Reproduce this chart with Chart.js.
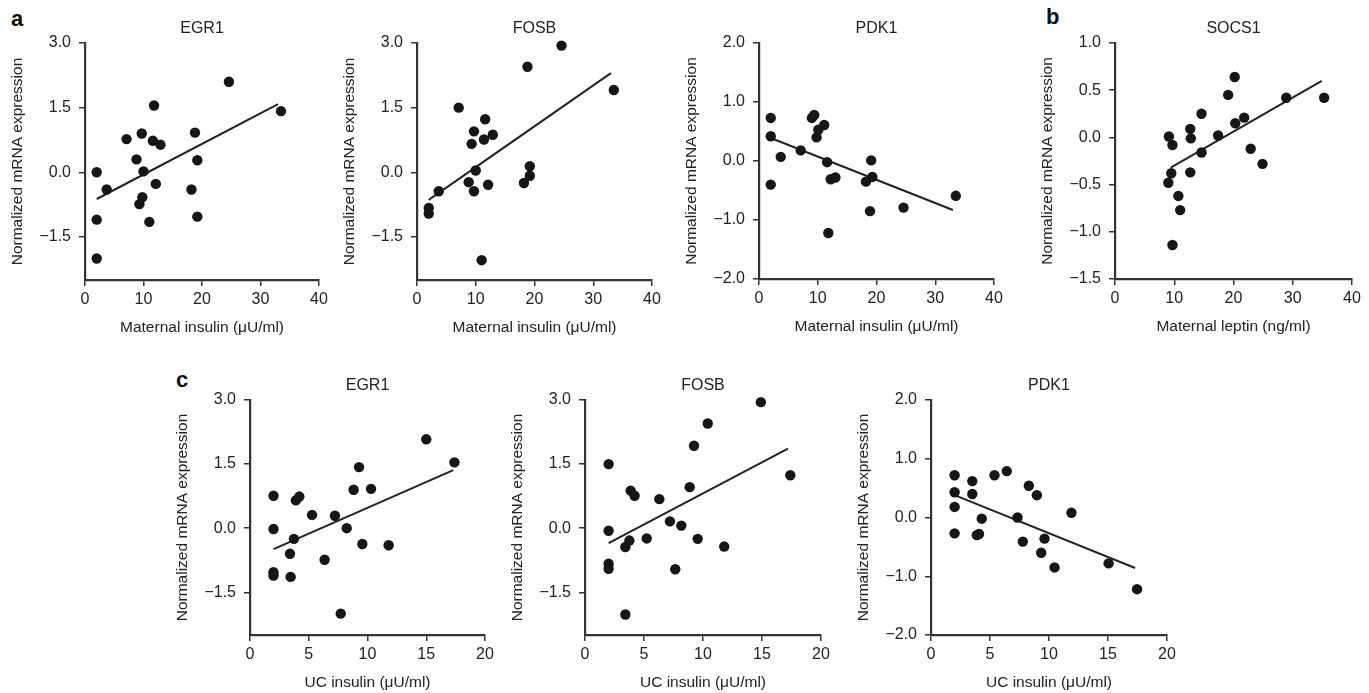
<!DOCTYPE html>
<html>
<head>
<meta charset="utf-8">
<script src="https://cdn.jsdelivr.net/npm/chart.js@4.4.1/dist/chart.umd.min.js"></script>
<style>
  body { margin: 0; width: 1369px; height: 693px; overflow: hidden; background: #fff; position: relative; }
  canvas { position: absolute; }
  .lbl { position: absolute; font-family: "Liberation Sans", Arial, sans-serif; font-weight: bold; font-size: 22px; line-height: 22px; color: #111; }
</style>
</head>
<body>
<div class="lbl" style="left:11px;top:8px">a</div>
<div class="lbl" style="left:1046px;top:6px">b</div>
<div class="lbl" style="left:176px;top:369px">c</div>
<script>
// maternal insulin vs EGR1
const egr1MatX = [2, 2, 2, 3.7, 7.1, 8.8, 9.7, 9.3, 9.8, 10, 11, 11.6, 11.8, 12.9, 12.1, 18.2, 18.8, 19.2, 19.2, 24.6, 33.5];
const egr1MatY = [0.0, -1.1, -2.0, -0.4, 0.77, 0.3, 0.9, -0.74, -0.58, 0.02, -1.15, 0.73, 1.55, 0.64, -0.27, -0.4, 0.92, 0.28, -1.03, 2.1, 1.42];
const egr1MatFitX = [2, 33];
const egr1MatFitY = [-0.62, 1.58];

// maternal insulin vs FOSB
const fosbMatX = [2, 2, 3.7, 7.1, 8.8, 9.3, 9.7, 9.7, 10, 11, 11.4, 11.6, 12.1, 12.9, 18.2, 18.8, 19.2, 19.2, 24.6, 33.5];
const fosbMatY = [-0.83, -0.96, -0.44, 1.5, -0.23, 0.66, 0.95, -0.44, 0.04, -2.04, 0.76, 1.23, -0.29, 0.87, -0.25, 2.45, 0.14, -0.08, 2.94, 1.91];
const fosbMatFitX = [2, 33];
const fosbMatFitY = [-0.64, 2.3];

// maternal insulin vs PDK1
const pdk1MatX = [2, 2, 2, 3.7, 7.1, 9.0, 9.4, 9.8, 10.1, 11.1, 11.6, 12.2, 13.0, 11.8, 18.2, 19.1, 19.3, 18.9, 24.6, 33.5];
const pdk1MatY = [0.73, 0.42, -0.4, 0.07, 0.18, 0.73, 0.78, 0.4, 0.53, 0.61, -0.02, -0.31, -0.28, -1.22, -0.35, 0.01, -0.27, -0.85, -0.79, -0.59];
const pdk1MatFitX = [2, 33];
const pdk1MatFitY = [0.39, -0.83];

// maternal leptin vs SOCS1
const socs1X = [9.1, 9.7, 9.0, 9.5, 9.7, 10.7, 11.0, 12.7, 12.8, 12.7, 14.6, 14.6, 17.4, 19.1, 20.2, 20.3, 21.8, 22.9, 24.9, 28.9, 35.3];
const socs1Y = [0.01, -0.08, -0.48, -0.38, -1.14, -0.62, -0.77, 0.09, -0.01, -0.37, 0.25, -0.16, 0.02, 0.45, 0.64, 0.15, 0.21, -0.12, -0.28, 0.42, 0.42];
const socs1FitX = [9.4, 34.9];
const socs1FitY = [-0.32, 0.6];

// UC insulin vs EGR1
const egr1UcX = [2, 2, 2, 2, 3.4, 3.46, 3.74, 3.9, 4.2, 5.28, 6.35, 7.23, 7.72, 8.23, 8.82, 9.28, 9.56, 10.3, 11.8, 15.0, 17.4];
const egr1UcY = [0.76, -0.02, -1.03, -1.11, -0.6, -1.14, -0.25, 0.65, 0.74, 0.31, -0.74, 0.29, -2.0, 0.0, 0.9, 1.43, -0.37, 0.92, -0.4, 2.08, 1.54];
const egr1UcFitX = [2, 17.3];
const egr1UcFitY = [-0.49, 1.36];

// UC insulin vs FOSB
const fosbUcX = [2, 2, 2, 2, 3.42, 3.42, 3.76, 3.87, 4.2, 5.23, 6.3, 7.2, 7.65, 8.16, 8.87, 9.24, 9.55, 10.4, 11.8, 14.9, 17.4];
const fosbUcY = [1.5, -0.06, -0.83, -0.95, -0.44, -2.02, -0.29, 0.88, 0.76, -0.24, 0.68, 0.16, -0.96, 0.06, 0.96, 1.93, -0.25, 2.45, -0.43, 2.95, 1.24];
const fosbUcFitX = [2, 17.2];
const fosbUcFitY = [-0.35, 1.86];

// UC insulin vs PDK1
const pdk1UcX = [2, 2, 2, 2, 3.5, 3.5, 3.88, 4.07, 4.3, 5.38, 6.42, 7.33, 7.78, 8.29, 8.97, 9.34, 9.62, 10.47, 11.9, 15.05, 17.46];
const pdk1UcY = [0.72, 0.43, 0.18, -0.27, 0.62, 0.4, -0.3, -0.28, -0.02, 0.72, 0.79, 0.0, -0.41, 0.54, 0.38, -0.6, -0.36, -0.85, 0.08, -0.78, -1.22];
const pdk1UcFitX = [2, 17.3];
const pdk1UcFitY = [0.38, -0.86];

// tick labels
const maternalXTicks = [0, 10, 20, 30, 40];
const ucXTicks = [0, 5, 10, 15, 20];
const wideYTicks = [-1.5, 0, 1.5, 3.0];
const pdk1YTicks = [-2, -1, 0, 1, 2];
const socs1YTicks = [-1.5, -1.0, -0.5, 0, 0.5, 1.0];

const yTitle = 'Normalized mRNA expression';
const matInsulinTitle = 'Maternal insulin (\u03bcU/ml)';
const ucInsulinTitle = 'UC insulin (\u03bcU/ml)';

Chart.defaults.font.family = '"Liberation Sans", Arial, Helvetica, sans-serif';
Chart.defaults.color = '#222';

// room around each plot area inside its canvas
const PAD_L = 80, PAD_R = 20, PAD_T = 40, PAD_B = 62;

const panels = [
  { left: 85,   top: 43,  w: 234, h: 237, title: 'EGR1',  xTitle: matInsulinTitle, xMax: 40, xTicks: maternalXTicks, yMin: -2.5, yMax: 3, yTicks: wideYTicks, xs: egr1MatX, ys: egr1MatY, fx: egr1MatFitX, fy: egr1MatFitY },
  { left: 417,  top: 43,  w: 235, h: 237, title: 'FOSB',  xTitle: matInsulinTitle, xMax: 40, xTicks: maternalXTicks, yMin: -2.5, yMax: 3, yTicks: wideYTicks, xs: fosbMatX, ys: fosbMatY, fx: fosbMatFitX, fy: fosbMatFitY },
  { left: 759,  top: 43,  w: 235, h: 236, title: 'PDK1',  xTitle: matInsulinTitle, xMax: 40, xTicks: maternalXTicks, yMin: -2, yMax: 2, yTicks: pdk1YTicks, xs: pdk1MatX, ys: pdk1MatY, fx: pdk1MatFitX, fy: pdk1MatFitY },
  { left: 1115, top: 43,  w: 237, h: 236, title: 'SOCS1', xTitle: 'Maternal leptin (ng/ml)', xMax: 40, xTicks: maternalXTicks, yMin: -1.5, yMax: 1, yTicks: socs1YTicks, xs: socs1X, ys: socs1Y, fx: socs1FitX, fy: socs1FitY },
  { left: 250,  top: 400, w: 235, h: 235, title: 'EGR1',  xTitle: ucInsulinTitle, xMax: 20, xTicks: ucXTicks, yMin: -2.5, yMax: 3, yTicks: wideYTicks, xs: egr1UcX, ys: egr1UcY, fx: egr1UcFitX, fy: egr1UcFitY },
  { left: 585,  top: 400, w: 236, h: 235, title: 'FOSB',  xTitle: ucInsulinTitle, xMax: 20, xTicks: ucXTicks, yMin: -2.5, yMax: 3, yTicks: wideYTicks, xs: fosbUcX, ys: fosbUcY, fx: fosbUcFitX, fy: fosbUcFitY },
  { left: 931,  top: 400, w: 236, h: 235, title: 'PDK1',  xTitle: ucInsulinTitle, xMax: 20, xTicks: ucXTicks, yMin: -2, yMax: 2, yTicks: pdk1YTicks, xs: pdk1UcX, ys: pdk1UcY, fx: pdk1UcFitX, fy: pdk1UcFitY }
];

const axisColor = '#333';

function fmtY(v) {
  return v < 0 ? '\u2212' + Math.abs(v).toFixed(1) : v.toFixed(1);
}

panels.forEach(p => {
  const cv = document.createElement('canvas');
  const cw = p.w + PAD_L + PAD_R;
  const ch = p.h + PAD_T + PAD_B;
  cv.width = cw;
  cv.height = ch;
  cv.style.left = (p.left - PAD_L) + 'px';
  cv.style.top = (p.top - PAD_T) + 'px';
  cv.style.width = cw + 'px';
  cv.style.height = ch + 'px';
  document.body.appendChild(cv);

  new Chart(cv, {
    type: 'scatter',
    data: {
      datasets: [
        {
          data: p.xs.map((x, i) => ({ x: x, y: p.ys[i] })),
          backgroundColor: '#161616',
          borderWidth: 0,
          pointRadius: 5.2,
          pointHoverRadius: 5.2,
          clip: false
        },
        {
          type: 'line',
          data: p.fx.map((x, i) => ({ x: x, y: p.fy[i] })),
          borderColor: '#222',
          borderWidth: 2,
          pointRadius: 0,
          fill: false,
          clip: false
        }
      ]
    },
    options: {
      responsive: false,
      animation: false,
      layout: { padding: { right: PAD_R } },
      plugins: {
        legend: { display: false },
        tooltip: { enabled: false },
        title: {
          display: true,
          fullSize: false,
          text: p.title,
          color: '#222',
          font: { size: 16, weight: 'normal' },
          padding: { top: 16, bottom: 4.8 }
        }
      },
      scales: {
        x: {
          type: 'linear',
          min: 0,
          max: p.xMax,
          afterBuildTicks: s => { s.ticks = p.xTicks.map(v => ({ value: v })); },
          afterFit: s => { s.height = PAD_B; },
          grid: { drawOnChartArea: false, drawTicks: true, tickLength: 6, color: axisColor, lineWidth: 1.5 },
          border: { display: true, color: axisColor, width: 2.2 },
          ticks: { font: { size: 16 }, color: '#222', padding: 4, maxRotation: 0 },
          title: { display: true, text: p.xTitle, color: '#222', font: { size: 15.5 }, padding: { top: 0, bottom: 5 } }
        },
        y: {
          type: 'linear',
          min: p.yMin,
          max: p.yMax,
          afterBuildTicks: s => { s.ticks = p.yTicks.map(v => ({ value: v })); },
          afterFit: s => { s.width = PAD_L; },
          grid: { drawOnChartArea: false, drawTicks: true, tickLength: 6, color: axisColor, lineWidth: 1.5 },
          border: { display: true, color: axisColor, width: 2.2 },
          ticks: { font: { size: 16 }, color: '#222', padding: 8, callback: v => fmtY(v) },
          title: { display: true, text: yTitle, color: '#222', font: { size: 15.5 }, padding: { top: 3, bottom: 0 } }
        }
      }
    }
  });
});
</script>
</body>
</html>
